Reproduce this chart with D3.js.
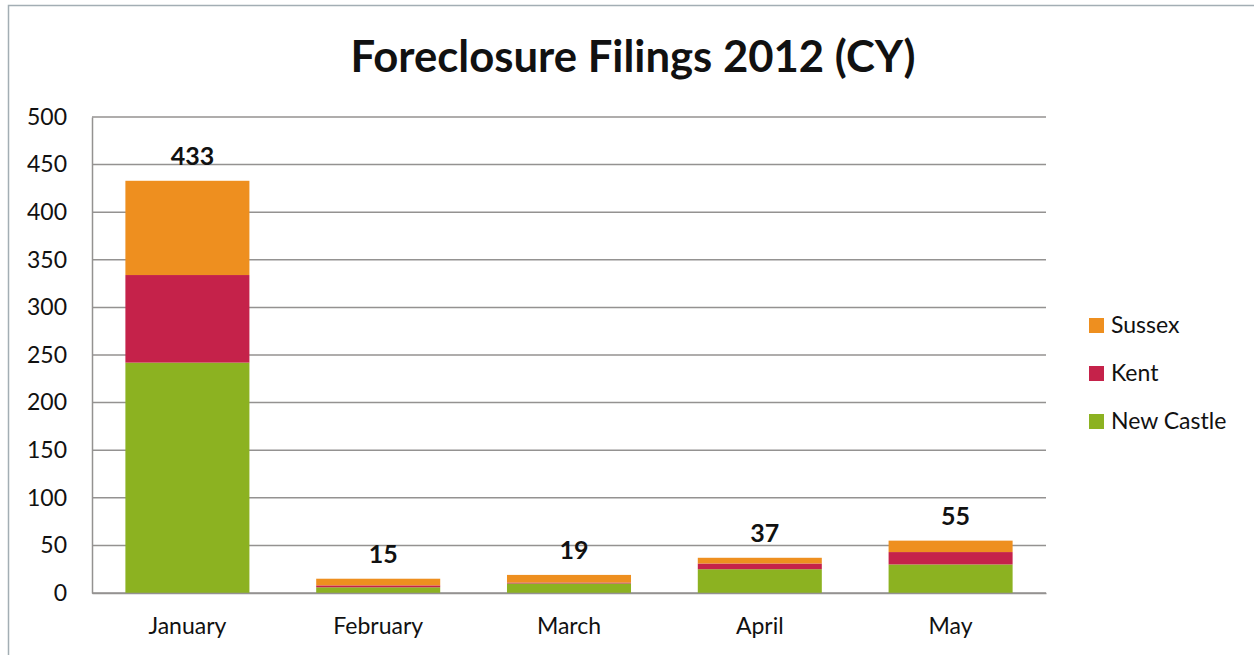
<!DOCTYPE html>
<html>
<head>
<meta charset="utf-8">
<script src="https://cdn.jsdelivr.net/npm/d3@7"></script>
<style>
  html, body { margin: 0; padding: 0; background: #fff; }
  svg { display: block; font-family: Lato, "Open Sans", sans-serif; }
</style>
</head>
<body>
<svg id="chart" width="1254" height="655"></svg>
<script>
const months = ["January", "February", "March", "April", "May"];
const seriesNames = ["New Castle", "Kent", "Sussex"];
const newCastle = [242, 6, 10, 25, 30];
const kent = [92, 2, 1, 6, 13];
const sussex = [99, 7, 8, 6, 12];
const totals = [433, 15, 19, 37, 55];
const yTicks = [0, 50, 100, 150, 200, 250, 300, 350, 400, 450, 500];
const colors = ["#8cb221", "#c5224a", "#ee8f1f"];
const legendOrder = ["Sussex", "Kent", "New Castle"];
const title = "Foreclosure Filings 2012 (CY)";

const rows = months.map((m, i) => ({
  month: m, "New Castle": newCastle[i], "Kent": kent[i], "Sussex": sussex[i], total: totals[i]
}));

const svg = d3.select("#chart");
const W = 1254, H = 655;
const plot = { left: 92, right: 1046, top: 117, bottom: 593 };

svg.append("rect").attr("width", W).attr("height", H).attr("fill", "#fff");
// outer frame
svg.append("rect").attr("x", 8.5).attr("y", 5.5).attr("width", 1260).attr("height", 700)
  .attr("fill", "none").attr("stroke", "#a3aeb4").attr("stroke-width", 1.5);

const x = d3.scaleBand().domain(months).range([plot.left, plot.right]).paddingInner(0.35).paddingOuter(0.175);
const y = d3.scaleLinear().domain([0, 500]).range([plot.bottom, plot.top]);
const color = d3.scaleOrdinal().domain(seriesNames).range(colors);

// gridlines
svg.append("g").selectAll("line").data(yTicks).join("line")
  .attr("x1", plot.left).attr("x2", plot.right)
  .attr("y1", d => y(d)).attr("y2", d => y(d))
  .attr("stroke", "#949291").attr("stroke-width", 1.5);

// y axis
const yAxis = svg.append("g").attr("transform", `translate(${plot.left},0)`)
  .call(d3.axisLeft(y).tickValues(yTicks).tickSize(0).tickPadding(25));
yAxis.select(".domain").attr("stroke", "#949291").attr("stroke-width", 1.5);
yAxis.selectAll("text").attr("font-size", 23).attr("fill", "#111").attr("font-family", "Lato");

// stacked bars
const stack = d3.stack().keys(seriesNames)(rows);
svg.append("g").selectAll("g").data(stack).join("g")
  .attr("fill", d => color(d.key))
  .selectAll("rect").data(d => d).join("rect")
  .attr("x", d => x(d.data.month))
  .attr("width", x.bandwidth())
  .attr("y", d => y(d[1]))
  .attr("height", d => y(d[0]) - y(d[1]));

// x axis
const xAxis = svg.append("g").attr("transform", `translate(0,${plot.bottom})`)
  .call(d3.axisBottom(x).tickSize(0).tickPadding(25));
xAxis.select(".domain").attr("stroke", "#949291").attr("stroke-width", 1.5);
xAxis.selectAll("text").attr("font-size", 23).attr("fill", "#111").attr("font-family", "Lato");

// totals labels
svg.append("g").selectAll("text").data(rows).join("text")
  .attr("x", d => x(d.month) + x.bandwidth() / 2 + 5)
  .attr("y", d => y(d.total) - 16)
  .attr("text-anchor", "middle")
  .attr("font-size", 25).attr("font-weight", "bold").attr("fill", "#111")
  .text(d => d.total);

// title
svg.append("text").attr("x", 633).attr("y", 72)
  .attr("text-anchor", "middle")
  .attr("font-size", 44).attr("font-weight", "bold").attr("fill", "#111")
  .attr("textLength", 565).attr("lengthAdjust", "spacingAndGlyphs")
  .text(title);

// legend
const lg = svg.append("g").selectAll("g").data(legendOrder).join("g")
  .attr("transform", (d, i) => `translate(1089,${318 + i * 48})`);
lg.append("rect").attr("width", 15).attr("height", 15).attr("fill", d => color(d));
lg.append("text").attr("x", 22).attr("y", 15).attr("font-size", 23).attr("fill", "#111").text(d => d);
</script>
</body>
</html>
